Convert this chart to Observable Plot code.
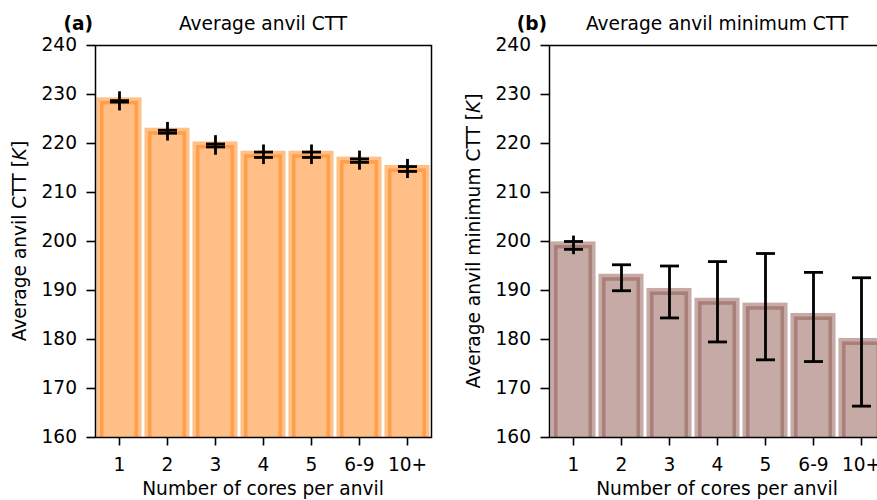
<!DOCTYPE html>
<html>
<head>
<meta charset="utf-8">
<script src="https://cdn.jsdelivr.net/npm/d3@7"></script>
<script src="https://cdn.jsdelivr.net/npm/@observablehq/plot@0.6"></script>
<style>
html, body { margin: 0; padding: 0; background: #fff; }
#wrap { position: relative; width: 877px; height: 500px; overflow: hidden; color: #000; font-family: "DejaVu Sans", sans-serif; }
#wrap > .panel { position: absolute; top: 0; }
#wrap svg text { font-family: "DejaVu Sans", sans-serif; font-size: 18.6px; fill: #000; }
#overlay { position: absolute; left: 0; top: 0; pointer-events: none; }
g[aria-label$="-axis tick"] path, g[aria-label$="-axis tick"] line,
g[aria-label="x-axis"] .tick line, g[aria-label="y-axis"] .tick line { stroke-width: 1.6px; stroke: #000; }
</style>
</head>
<body>
<div id="wrap"></div>
<script>
// ---- data ----
const categories = ["1", "2", "3", "4", "5", "6-9", "10+"];
const yTicks = [160, 170, 180, 190, 200, 210, 220, 230, 240];

// (a) Average anvil CTT: mean, half-length of the error line, half-spread of the caps
const meanCTT    = [228.6, 222.4, 219.6, 217.7, 217.7, 216.5, 214.8];
const lineErrCTT = [1.95, 1.9, 2.0, 2.0, 2.0, 1.95, 1.95];
const capErrCTT  = [0.15, 0.3, 0.3, 0.55, 0.55, 0.35, 0.5];

// (b) Average anvil minimum CTT
const meanMinCTT    = [199.2, 192.6, 189.7, 187.7, 186.7, 184.6, 179.5];
const lineErrMinCTT = [1.9, 2.65, 5.3, 8.2, 10.85, 9.1, 13.1];
const capErrMinCTT  = [0.8, 2.65, 5.3, 8.2, 10.85, 9.1, 13.1];

const panels = [
  { tag: "(a)", title: "Average anvil CTT", ylabel: "Average anvil CTT ", color: "#ff7f0e", mean: meanCTT, lineErr: lineErrCTT, capErr: capErrCTT, offset: 0 },
  { tag: "(b)", title: "Average anvil minimum CTT", ylabel: "Average anvil minimum CTT ", color: "#8c564b", mean: meanMinCTT, lineErr: lineErrMinCTT, capErr: capErrMinCTT, offset: 454 }
];
const xlabel = "Number of cores per anvil";

// ---- layout ----
const W = 440, H = 500, mL = 95, mR = 9, mT = 45, mB = 63;

// custom horizontal-line symbol for the error-bar caps
const capSymbol = { draw(ctx, size) { const r = Math.sqrt(size / Math.PI); ctx.moveTo(-r, 0); ctx.lineTo(r, 0); } };

const wrap = document.getElementById("wrap");

for (const p of panels) {
  const data = categories.map((c, i) => ({ cat: c, mean: p.mean[i], le: p.lineErr[i], ce: p.capErr[i] }));
  const chart = Plot.plot({
    width: W, height: H,
    marginLeft: mL, marginRight: mR, marginTop: mT, marginBottom: mB,
    style: { fontFamily: "DejaVu Sans", fontSize: "18.6px", color: "#000", background: "transparent", overflow: "visible" },
    x: { type: "band", domain: categories, paddingInner: 0.2, paddingOuter: 0.1, label: null, tickSize: 8.5, tickPadding: 12 },
    y: { domain: [160, 240], ticks: yTicks, tickFormat: d => String(d), label: null, tickSize: 8.5, tickPadding: 10 },
    marks: [
      Plot.barY(data, { x: "cat", y: "mean", fill: p.color, fillOpacity: 0.5, stroke: p.color, strokeOpacity: 0.5, strokeWidth: 7, inset: 0, clip: true }),
      Plot.ruleX(data, { x: "cat", y1: d => d.mean - d.le, y2: d => d.mean + d.le, stroke: "#000", strokeWidth: 2.8 }),
      Plot.dot(data, { x: "cat", y: d => d.mean - d.ce, symbol: capSymbol, r: 9.5, stroke: "#000", strokeWidth: 2.8, fill: "none" }),
      Plot.dot(data, { x: "cat", y: d => d.mean + d.ce, symbol: capSymbol, r: 9.5, stroke: "#000", strokeWidth: 2.8, fill: "none" }),
      Plot.frame({ stroke: "#000", strokeWidth: 1.5 })
    ]
  });
  chart.classList.add("panel");
  chart.style.left = p.offset + "px";
  wrap.appendChild(chart);
}

// ---- titles and axis labels ----
const ov = d3.select(wrap).append("svg").attr("id", "overlay").attr("width", 877).attr("height", 500);
for (const p of panels) {
  const cx = p.offset + mL + (W - mL - mR) / 2;
  ov.append("text").attr("x", p.offset + mL - 2).attr("y", 30).attr("text-anchor", "end").style("font-weight", "bold").text(p.tag);
  ov.append("text").attr("x", cx).attr("y", 30).attr("text-anchor", "middle").text(p.title);
  ov.append("text").attr("x", cx).attr("y", 495).attr("text-anchor", "middle").text(xlabel);
  const yl = ov.append("text").attr("text-anchor", "middle")
    .attr("transform", `translate(${p.offset + 26},${mT + (H - mT - mB) / 2}) rotate(-90)`);
  yl.append("tspan").text(p.ylabel + "[");
  yl.append("tspan").style("font-style", "italic").text("K");
  yl.append("tspan").text("]");
}
</script>
</body>
</html>
